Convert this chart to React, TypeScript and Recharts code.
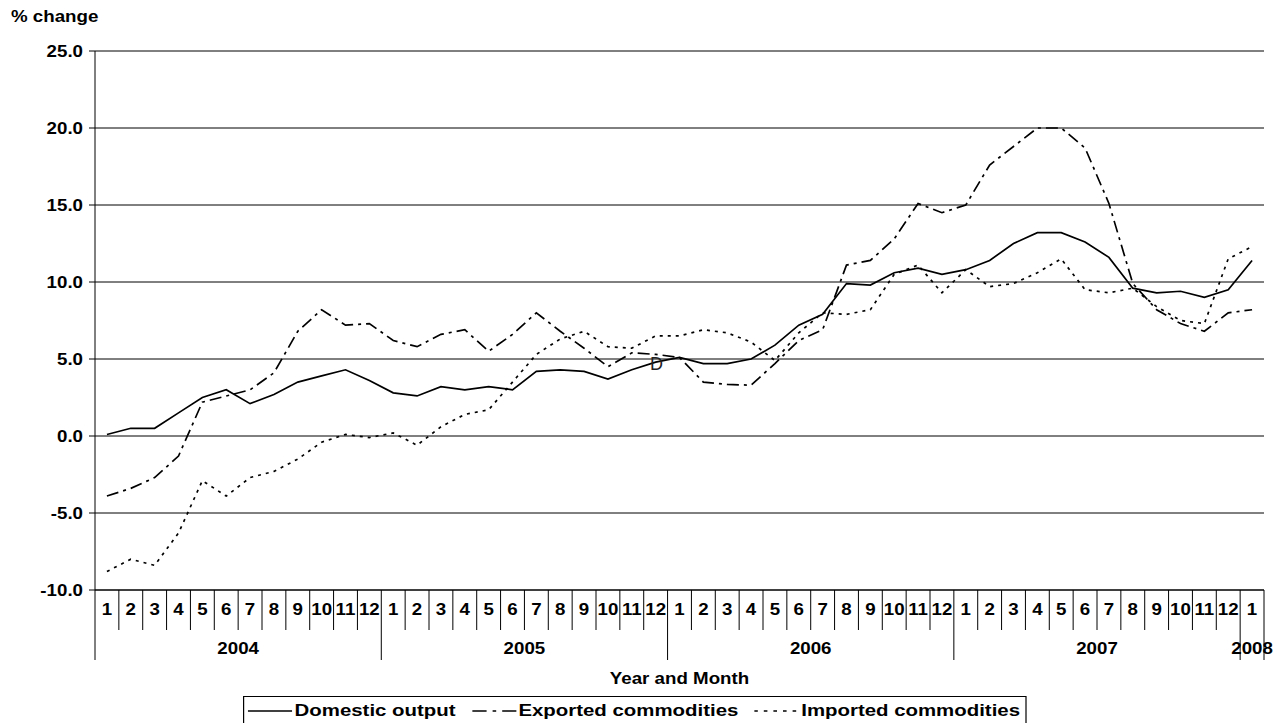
import React from 'react';
import { LineChart, Line, XAxis, YAxis, CartesianGrid, Legend, Label } from 'recharts';

// categories
const years = [2004, 2005, 2006, 2007, 2008];
const monthsPerYear = [12, 12, 12, 12, 1];

// % change, Jan 2004 .. Jan 2008
const domesticOutput = [
  0.1, 0.5, 0.5, 1.5, 2.5, 3.0, 2.1, 2.7, 3.5, 3.9, 4.3, 3.6,
  2.8, 2.6, 3.2, 3.0, 3.2, 3.0, 4.2, 4.3, 4.2, 3.7, 4.3, 4.8,
  5.1, 4.7, 4.7, 5.0, 5.9, 7.2, 7.9, 9.9, 9.8, 10.6, 10.9, 10.5,
  10.8, 11.4, 12.5, 13.2, 13.2, 12.6, 11.6, 9.6, 9.3, 9.4, 9.0, 9.5,
  11.4,
];
const exportedCommodities = [
  -3.9, -3.4, -2.7, -1.3, 2.2, 2.6, 3.0, 4.1, 6.8, 8.2, 7.2, 7.3,
  6.2, 5.8, 6.6, 6.9, 5.5, 6.6, 8.0, 6.8, 5.7, 4.5, 5.4, 5.3,
  5.1, 3.5, 3.35, 3.3, 4.7, 6.2, 6.9, 11.1, 11.4, 12.8, 15.1, 14.5,
  15.0, 17.6, 18.8, 20.0, 20.0, 18.7, 15.1, 9.9, 8.2, 7.3, 6.8, 8.0,
  8.2,
];
const importedCommodities = [
  -8.8, -8.0, -8.4, -6.3, -2.9, -3.9, -2.7, -2.3, -1.5, -0.4, 0.1, -0.1,
  0.2, -0.6, 0.6, 1.4, 1.7, 3.5, 5.3, 6.3, 6.8, 5.8, 5.7, 6.5,
  6.5, 6.9, 6.7, 6.1, 4.9, 6.7, 8.0, 7.9, 8.2, 10.5, 11.1, 9.3,
  10.8, 9.7, 9.9, 10.6, 11.5, 9.5, 9.3, 9.6, 8.4, 7.5, 7.3, 11.5,
  12.3,
];
const yTicks = [-10, -5, 0, 5, 10, 15, 20, 25];

const categories = years.flatMap((year, i) =>
  Array.from({ length: monthsPerYear[i] }, (_, m) => ({ year, month: m + 1, key: `${year}-${m + 1}` }))
);

const data = categories.map((c, i) => ({
  key: c.key,
  domestic: domesticOutput[i],
  exported: exportedCommodities[i],
  imported: importedCommodities[i],
}));

const series = [
  { key: 'domestic', name: 'Domestic output', dash: undefined as string | undefined },
  { key: 'exported', name: 'Exported commodities', dash: '12 5 3 5' },
  { key: 'imported', name: 'Imported commodities', dash: '3 5' },
];

// the original text is a wide (stretched) Arial bold
const FONT = "'Liberation Sans', Arial, sans-serif";
const STRETCH = 1.17;
const textStyle = { fontFamily: FONT, fontWeight: 'bold' as const, fontSize: 16, fill: '#000' };

const WideText = ({ x, y, anchor = 'middle', children }: any) => (
  <text transform={`translate(${x},${y}) scale(${STRETCH},1)`} x={0} y={0} textAnchor={anchor} style={textStyle}>
    {children}
  </text>
);

const MonthTick = (props: any) => {
  const { x, y, payload } = props;
  const idx = categories.findIndex((c) => c.key === payload.value);
  const cat = categories[idx];
  if (!cat) return null;
  const half = payload.offset || 11.93;
  const yearStart = cat.month === 1;
  const last = idx === categories.length - 1;
  const showYear = cat.month === 7 || cat.year === 2008;
  return (
    <g>
      <line x1={x - half} x2={x - half} y1={y} y2={y + (yearStart ? 70 : 40)} stroke="#000" strokeWidth={1} />
      {last && <line x1={x + half} x2={x + half} y1={y} y2={y + 70} stroke="#000" strokeWidth={1} />}
      <WideText x={x} y={y + 25}>{cat.month}</WideText>
      {showYear && (
        <WideText x={cat.year === 2008 ? x : x - half} y={y + 64}>
          {cat.year}
        </WideText>
      )}
    </g>
  );
};

const ValueTick = (props: any) => {
  const { x, y, payload } = props;
  return (
    <WideText x={x} y={y + 5.5} anchor="end">
      {Number(payload.value).toFixed(1)}
    </WideText>
  );
};

const LEGEND_SCALE = 1.2;

const LegendBox = () => (
  <div
    style={{
      width: 783 / LEGEND_SCALE,
      height: 30,
      border: '1px solid #000',
      boxSizing: 'border-box',
      background: '#fff',
      transform: `scaleX(${LEGEND_SCALE})`,
      transformOrigin: 'left top',
      display: 'flex',
      alignItems: 'center',
      justifyContent: 'space-between',
      padding: '0 4px 0 3px',
    }}
  >
    {series.map((s) => (
      <div key={s.key} style={{ display: 'flex', alignItems: 'center' }}>
        <svg width={37} height={10}>
          <line x1={0} x2={37} y1={5} y2={5} stroke="#000" strokeWidth={1.7} strokeDasharray={s.dash} />
        </svg>
        <span
          style={{
            marginLeft: 2,
            fontFamily: FONT,
            fontWeight: 'bold',
            fontSize: 17,
            lineHeight: '20px',
            color: '#000',
            whiteSpace: 'nowrap',
          }}
        >
          {s.name}
        </span>
      </div>
    ))}
  </div>
);

export default function App() {
  return (
    <div style={{ position: 'absolute', left: 0, top: 0, width: 1278, height: 723, background: '#fff', overflow: 'hidden' }}>
      <LineChart width={1278} height={723} data={data} margin={{ top: 51, right: 14, left: 8, bottom: 38 }}>
        <CartesianGrid vertical={false} stroke="#000" strokeWidth={1} />
        <XAxis
          dataKey="key"
          scale="band"
          interval={0}
          height={95}
          tickSize={0}
          tickMargin={0}
          tickLine={false}
          axisLine={{ stroke: '#000' }}
          tick={<MonthTick />}
        >
          <Label
            content={(p: any) => {
              const vb = p.viewBox;
              return (
                <WideText x={vb.x + vb.width / 2} y={vb.y + 94}>
                  Year and Month
                </WideText>
              );
            }}
          />
        </XAxis>
        <YAxis
          domain={[-10, 25]}
          ticks={yTicks}
          width={87}
          tickSize={6}
          tickMargin={6}
          axisLine={{ stroke: '#000' }}
          tickLine={{ stroke: '#000' }}
          tick={<ValueTick />}
          allowDataOverflow
        />
        <YAxis
          yAxisId="right"
          orientation="right"
          width={0}
          domain={[0, 1]}
          ticks={[]}
          tick={false}
          tickLine={false}
          axisLine={{ stroke: '#000' }}
        />
        {series.map((s) => (
          <Line
            key={s.key}
            type="linear"
            dataKey={s.key}
            name={s.name}
            stroke="#000"
            strokeWidth={1.7}
            strokeDasharray={s.dash}
            dot={false}
            activeDot={false}
            isAnimationActive={false}
          />
        ))}
        <Legend
          layout="horizontal"
          verticalAlign="middle"
          align="center"
          wrapperStyle={{ left: 243, top: 696, width: 783, height: 30 }}
          content={() => <LegendBox />}
        />
      </LineChart>
      <div
        style={{
          position: 'absolute',
          left: 11,
          top: 7,
          fontFamily: FONT,
          fontWeight: 'bold',
          fontSize: 16,
          lineHeight: '20px',
          color: '#000',
          whiteSpace: 'nowrap',
          transform: `scaleX(${STRETCH})`,
          transformOrigin: 'left top',
        }}
      >
        % change
      </div>
      <div
        style={{
          position: 'absolute',
          left: 650,
          top: 355,
          fontFamily: FONT,
          fontSize: 18,
          lineHeight: '18px',
          color: '#222',
        }}
      >
        D
      </div>
    </div>
  );
}
